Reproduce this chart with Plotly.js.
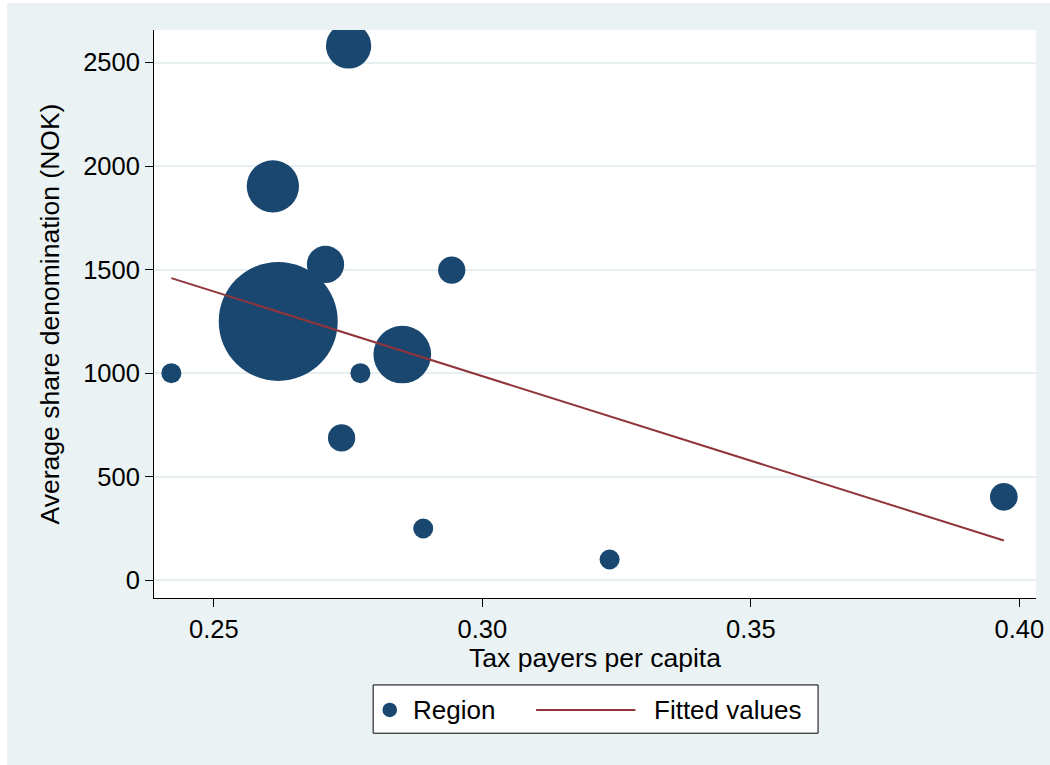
<!DOCTYPE html>
<html>
<head>
<meta charset="utf-8">
<script src="https://cdn.plot.ly/plotly-3.0.1.min.js"></script>
<style>
  html, body { margin: 0; padding: 0; background: #ffffff; width: 1050px; height: 765px; overflow: hidden; }
  #chart { position: absolute; left: 7px; top: 3px; width: 1043px; height: 762px; }
</style>
</head>
<body>
<div id="chart"></div>
<script>
// ---- data ----
var taxPayersPerCapita = [0.2421, 0.2620, 0.2610, 0.2751, 0.2708, 0.2773, 0.2738, 0.2851, 0.2890, 0.2943, 0.3237, 0.3971];
var avgShareDenom      = [1000,   1250,   1902,   2580,   1525,   1000,   687,    1090,   250,    1498,   100,    403];
var regionWeight       = [1.0,    35.4,   6.84,   5.13,   3.48,   1.0,    1.86,   8.32,   1.0,    1.86,   1.0,    1.92];
var fittedX = [0.2421, 0.3971];
var fittedY = [1459, 192];
var seriesNames = ["Region", "Fitted values"];
var xTickVals = [0.25, 0.30, 0.35, 0.40];
var xTickText = ["0.25", "0.30", "0.35", "0.40"];
var yTickVals = [0, 500, 1000, 1500, 2000, 2500];
var yTickText = ["0", "500", "1000", "1500", "2000", "2500"];

// ---- styling ----
var NAVY = "#1a476f", MAROON = "#90353b", BG = "#eaf2f3";
var FONT = "Liberation Sans, Arial, sans-serif";

// page geometry (absolute px on the page)
var OFFX = 7, OFFY = 3;
var PL = 153.5, PR = 1035.7, PT = 29.6, PB = 598;
var W = 1043, H = 762;
function fx(px) { return (px - PL) / (PR - PL); }
function fy(py) { return (PB - py) / (PB - PT); }

var traces = [
  {
    type: "scatter", mode: "markers", name: seriesNames[0],
    x: taxPayersPerCapita, y: avgShareDenom,
    marker: { color: NAVY, opacity: 1, size: regionWeight, sizemode: "area", sizeref: 0.005, line: { width: 0 } },
    showlegend: false, hoverinfo: "x+y"
  },
  {
    type: "scatter", mode: "lines", name: seriesNames[1],
    x: fittedX, y: fittedY,
    line: { color: MAROON, width: 2 },
    showlegend: false
  }
];

// custom legend (Stata style)
var LB = { l: 372.7, r: 817.7, t: 685, b: 733.3 };
var legY = 710;
var shapes = [
  { type: "rect", xref: "paper", yref: "paper", x0: fx(LB.l), x1: fx(LB.r), y0: fy(LB.b), y1: fy(LB.t),
    fillcolor: "#ffffff", line: { color: "#000000", width: 1 }, layer: "above" },
  { type: "circle", xref: "paper", yref: "paper", x0: fx(389.3 - 7.3), x1: fx(389.3 + 7.3), y0: fy(legY + 7.3), y1: fy(legY - 7.3),
    fillcolor: NAVY, line: { width: 0 }, layer: "above" },
  { type: "line", xref: "paper", yref: "paper", x0: fx(535.7), x1: fx(635), y0: fy(legY), y1: fy(legY),
    line: { color: MAROON, width: 2 }, layer: "above" }
];
var annotations = [
  { xref: "paper", yref: "paper", x: fx(411), y: fy(legY), xanchor: "left", yanchor: "middle",
    text: seriesNames[0], showarrow: false, font: { family: FONT, size: 26, color: "#000" } },
  { xref: "paper", yref: "paper", x: fx(651.5), y: fy(legY), xanchor: "left", yanchor: "middle",
    text: seriesNames[1], showarrow: false, font: { family: FONT, size: 26, color: "#000" } }
];

var layout = {
  width: W, height: H,
  paper_bgcolor: BG, plot_bgcolor: "#ffffff",
  margin: { l: PL - OFFX, r: (OFFX + W) - PR, t: PT - OFFY, b: (OFFY + H) - PB, pad: 0 },
  font: { family: FONT, size: 25.5, color: "#000" },
  showlegend: false,
  xaxis: {
    range: [0.23887, 0.40309], autorange: false,
    tickvals: xTickVals, ticktext: xTickText,
    ticks: "outside", ticklen: 8, tickwidth: 1, tickcolor: "#000",
    showline: true, linecolor: "#000", linewidth: 1,
    showgrid: false, zeroline: false,
    tickfont: { family: FONT, size: 25.5, color: "#000" },
    title: { text: "Tax payers per capita", font: { family: FONT, size: 26.5, color: "#000" }, standoff: 3 },
    automargin: false
  },
  yaxis: {
    range: [-85.7, 2657], autorange: false,
    tickvals: yTickVals, ticktext: yTickText,
    ticks: "outside", ticklen: 8, tickwidth: 1, tickcolor: "#000",
    showline: true, linecolor: "#000", linewidth: 1,
    showgrid: true, gridcolor: "#e6eef1", gridwidth: 2, zeroline: false,
    tickfont: { family: FONT, size: 25.5, color: "#000" },
    title: { text: "Average share denomination (NOK)", font: { family: FONT, size: 26.5, color: "#000" }, standoff: 15 },
    automargin: false
  },
  shapes: shapes,
  annotations: annotations
};

Plotly.newPlot("chart", traces, layout, { displayModeBar: false, staticPlot: true });
</script>
</body>
</html>
